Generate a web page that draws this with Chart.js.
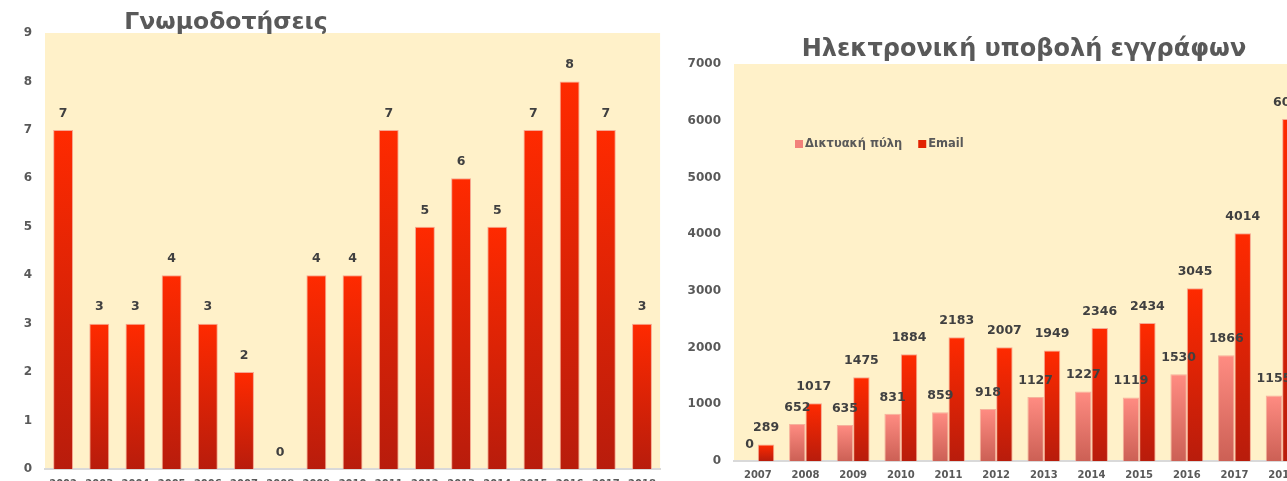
<!DOCTYPE html>
<html>
<head>
<meta charset="utf-8">
<script src="https://cdn.jsdelivr.net/npm/chart.js@4/dist/chart.umd.min.js"></script>
<style>
  html, body { margin: 0; padding: 0; background: #fff; overflow: hidden; width: 1287px; height: 481px; }
  #left { position: absolute; left: 0; top: 0; }
  #right { position: absolute; left: 665px; top: 0; }
</style>
</head>
<body>
<canvas id="left" width="665" height="500"></canvas>
<canvas id="right" width="660" height="490"></canvas>
<script>
// left chart data
var opinionYears = ['2002','2003','2004','2005','2006','2007','2008','2009','2010','2011','2012','2013','2014','2015','2016','2017','2018'];
var opinionCounts = [7, 3, 3, 4, 3, 2, 0, 4, 4, 7, 5, 6, 5, 7, 8, 7, 3];

// right chart data
var submitYears = ['2007','2008','2009','2010','2011','2012','2013','2014','2015','2016','2017','2018'];
var portalCounts = [0, 652, 635, 831, 859, 918, 1127, 1227, 1119, 1530, 1866, 1155];
var emailCounts = [289, 1017, 1475, 1884, 2183, 2007, 1949, 2346, 2434, 3045, 4014, 6030];

var FONT = '"DejaVu Sans", Verdana, sans-serif';

function barGradient(top, bottom) {
    return function(c) {
        var chart = c.chart;
        if (!chart.chartArea || c.type !== 'data') return bottom;
        var y = chart.scales.y;
        var yTop = y.getPixelForValue(c.raw);
        var yBase = y.getPixelForValue(0);
        if (yBase - yTop < 1) return top;
        var g = chart.ctx.createLinearGradient(0, yTop, 0, yBase);
        g.addColorStop(0, top);
        g.addColorStop(1, bottom);
        return g;
    };
}

var plotBackground = {
    id: 'plotBackground',
    beforeDraw: function(chart) {
        var a = chart.chartArea;
        chart.ctx.save();
        chart.ctx.fillStyle = '#FFF1C9';
        chart.ctx.fillRect(a.left, a.top, a.right - a.left, a.bottom - a.top);
        chart.ctx.restore();
    }
};

var valueLabels = {
    id: 'valueLabels',
    afterDatasetsDraw: function(chart) {
        var ctx = chart.ctx;
        ctx.save();
        ctx.font = 'bold 12.5px ' + FONT;
        ctx.fillStyle = '#404040';
        ctx.textAlign = 'center';
        ctx.textBaseline = 'middle';
        chart.data.datasets.forEach(function(ds, i) {
            chart.getDatasetMeta(i).data.forEach(function(bar, j) {
                ctx.fillText(String(ds.data[j]), bar.x, bar.y - 16.5);
            });
        });
        ctx.restore();
    }
};

var freeTitle = {
    id: 'freeTitle',
    afterDraw: function(chart, args, opts) {
        var ctx = chart.ctx;
        ctx.save();
        ctx.font = 'bold ' + opts.size + 'px ' + FONT;
        ctx.fillStyle = '#595959';
        ctx.textAlign = 'center';
        ctx.textBaseline = 'alphabetic';
        ctx.fillText(opts.text, opts.x, opts.y);
        ctx.restore();
    }
};

var innerLegend = {
    id: 'innerLegend',
    afterDraw: function(chart, args, opts) {
        if (!opts.show) return;
        var ctx = chart.ctx;
        ctx.save();
        ctx.font = 'bold 11.5px ' + FONT;
        ctx.textBaseline = 'middle';
        ctx.textAlign = 'left';
        var x = opts.x;
        chart.data.datasets.forEach(function(ds, i) {
            ctx.fillStyle = opts.colors[i];
            ctx.fillRect(x, opts.y - 4, 8, 8);
            ctx.fillStyle = '#595959';
            ctx.fillText(ds.label, x + 10, opts.y);
            x += 10 + ctx.measureText(ds.label).width + 16;
        });
        ctx.restore();
    }
};

function axes(maxVal, step, yWidth, xHeight, xPad) {
    return {
        x: {
            grid: { display: false, drawTicks: false },
            border: { display: true, color: '#D9D9D9', width: 2 },
            ticks: { color: '#595959', font: { family: FONT, size: 10, weight: 'bold' }, padding: xPad, maxRotation: 0, autoSkip: false },
            afterFit: function(s) { s.height = xHeight; }
        },
        y: {
            min: 0, max: maxVal,
            grid: { display: false, drawTicks: false },
            border: { display: false },
            ticks: {
                stepSize: step, color: '#595959', font: { family: FONT, size: 12, weight: 'bold' }, padding: 13,
                callback: function(v) { return String(v); }
            },
            afterFit: function(s) { s.width = yWidth; }
        }
    };
}

new Chart(document.getElementById('left').getContext('2d'), {
    type: 'bar',
    data: {
        labels: opinionYears,
        datasets: [{
            label: 'Γνωμοδοτήσεις',
            data: opinionCounts,
            backgroundColor: barGradient('#FF2A00', '#B81C0C'),
            borderColor: 'rgba(245,160,140,0.9)',
            borderWidth: 1,
            barPercentage: 0.55,
            categoryPercentage: 1
        }]
    },
    options: {
        responsive: false,
        animation: false,
        devicePixelRatio: 1,
        layout: { padding: { top: 33, right: 3, left: 0, bottom: 0 } },
        scales: axes(9, 1, 45, 31, 9),
        plugins: {
            legend: { display: false },
            tooltip: { enabled: false },
            freeTitle: { text: 'Γνωμοδοτήσεις', x: 226, y: 29, size: 23.5 },
            innerLegend: { show: false }
        }
    },
    plugins: [plotBackground, valueLabels, freeTitle, innerLegend]
});

new Chart(document.getElementById('right').getContext('2d'), {
    type: 'bar',
    data: {
        labels: submitYears,
        datasets: [{
            label: 'Δικτυακή πύλη',
            data: portalCounts,
            backgroundColor: barGradient('#FF8C82', '#CC6055'),
            borderColor: 'rgba(245,170,150,0.9)',
            borderWidth: 1,
            barPercentage: 1,
            categoryPercentage: 0.69
        }, {
            label: 'Email',
            data: emailCounts,
            backgroundColor: barGradient('#FF2A00', '#B81C0C'),
            borderColor: 'rgba(245,160,140,0.9)',
            borderWidth: 1,
            barPercentage: 1,
            categoryPercentage: 0.69
        }]
    },
    options: {
        responsive: false,
        animation: false,
        devicePixelRatio: 1,
        layout: { padding: { top: 64, right: 19, left: 0, bottom: 0 } },
        scales: axes(7000, 1000, 69, 29, 8),
        plugins: {
            legend: { display: false },
            tooltip: { enabled: false },
            freeTitle: { text: 'Ηλεκτρονική υποβολή εγγράφων', x: 359, y: 56, size: 24 },
            innerLegend: { show: true, x: 130, y: 144, colors: ['#F2817A', '#E22200'] }
        }
    },
    plugins: [plotBackground, valueLabels, freeTitle, innerLegend]
});
</script>
</body>
</html>
